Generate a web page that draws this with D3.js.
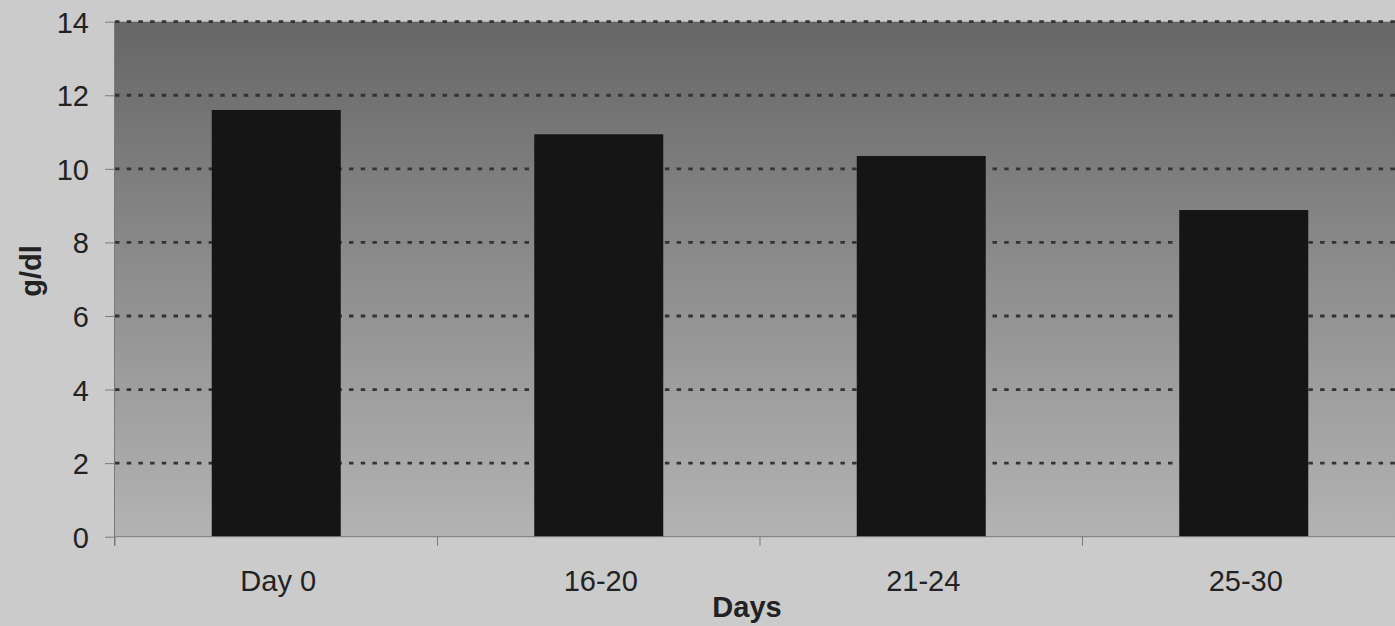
<!DOCTYPE html>
<html>
<head>
<meta charset="utf-8">
<script src="https://cdn.jsdelivr.net/npm/d3@7"></script>
<style>
  html, body { margin: 0; padding: 0; background: #c9c9c9; }
  svg { display: block; }
  text { font-family: "Liberation Sans", Arial, sans-serif; fill: #222; }
</style>
</head>
<body>
<svg id="chart" width="1395" height="626"></svg>
<script>
// Haemoglobin by time period
const categories = ["Day 0", "16-20", "21-24", "25-30"];
const values = [11.6, 10.94, 10.35, 8.88];
const yTicks = [0, 2, 4, 6, 8, 10, 12, 14];
const xTitle = "Days";
const yTitle = "g/dl";

const svg = d3.select("#chart");
const W = 1395, H = 626;
const plot = { left: 115, right: 1405, top: 21.7, bottom: 536.7 };

const x = d3.scaleBand()
  .domain(categories)
  .range([plot.left, plot.right])
  .paddingInner(0.6)
  .paddingOuter(0.3);

const y = d3.scaleLinear()
  .domain([0, 14])
  .range([plot.bottom, plot.top]);

// page background
svg.append("rect").attr("width", W).attr("height", H).attr("fill", "#cbcbcb");

// plot area gradient: darker at the top, lighter at the bottom
const defs = svg.append("defs");
const grad = defs.append("linearGradient")
  .attr("id", "plotBg").attr("x1", 0).attr("y1", 0).attr("x2", 0).attr("y2", 1);
grad.append("stop").attr("offset", "0%").attr("stop-color", "#666666");
grad.append("stop").attr("offset", "50%").attr("stop-color", "#8e8e8e");
grad.append("stop").attr("offset", "100%").attr("stop-color", "#b3b3b3");

svg.append("rect")
  .attr("x", plot.left).attr("y", y(14))
  .attr("width", plot.right - plot.left).attr("height", y(0) - y(14))
  .attr("fill", "url(#plotBg)");

// dotted gridlines
svg.append("g")
  .selectAll("line")
  .data(yTicks.filter(d => d > 0))
  .join("line")
  .attr("x1", plot.left).attr("x2", plot.right)
  .attr("y1", d => y(d)).attr("y2", d => y(d))
  .attr("stroke", "#333333")
  .attr("stroke-width", 2.8)
  .attr("stroke-dasharray", "4.5,7.2");

// bars
svg.append("g")
  .selectAll("rect")
  .data(categories.map((c, i) => ({ c, v: values[i] })))
  .join("rect")
  .attr("x", d => x(d.c))
  .attr("width", x.bandwidth())
  .attr("y", d => y(d.v))
  .attr("height", d => y(0) - y(d.v))
  .attr("fill", "#151515");

// y axis
const yAxis = svg.append("g")
  .attr("transform", `translate(${plot.left},0)`)
  .call(d3.axisLeft(y).tickValues(yTicks).tickSize(10).tickPadding(16));
yAxis.select(".domain").attr("stroke", "#7a7a7a").attr("d", `M-0.5,${y(0) + 9}V${y(14)}`);
yAxis.selectAll(".tick line").attr("stroke", "#7a7a7a");
yAxis.selectAll(".tick text")
  .attr("font-size", 29)
  .attr("fill", "#1e1e1e")
  .attr("dy", "0.36em");

// x axis line with ticks at category boundaries
const xg = svg.append("g");
xg.append("line")
  .attr("x1", plot.left).attr("x2", plot.right)
  .attr("y1", y(0)).attr("y2", y(0))
  .attr("stroke", "#7a7a7a").attr("stroke-width", 1);
const bounds = d3.range(categories.length + 1).map(i => plot.left + i * x.step());
xg.selectAll("line.bound")
  .data(bounds)
  .join("line")
  .attr("class", "bound")
  .attr("x1", d => d).attr("x2", d => d)
  .attr("y1", y(0)).attr("y2", y(0) + 9)
  .attr("stroke", "#7a7a7a");
xg.selectAll("text")
  .data(categories)
  .join("text")
  .attr("x", d => x(d) + x.bandwidth() / 2 + 2)
  .attr("y", 591)
  .attr("text-anchor", "middle")
  .attr("font-size", 29)
  .attr("fill", "#1e1e1e")
  .text(d => d);

// axis titles
svg.append("text")
  .attr("x", 747).attr("y", 617)
  .attr("text-anchor", "middle")
  .attr("font-size", 29)
  .attr("font-weight", "bold")
  .attr("fill", "#1e1e1e")
  .text(xTitle);

svg.append("text")
  .attr("transform", "translate(41,271) rotate(-90)")
  .attr("text-anchor", "middle")
  .attr("font-size", 29)
  .attr("font-weight", "bold")
  .attr("fill", "#1e1e1e")
  .text(yTitle);
</script>
</body>
</html>
